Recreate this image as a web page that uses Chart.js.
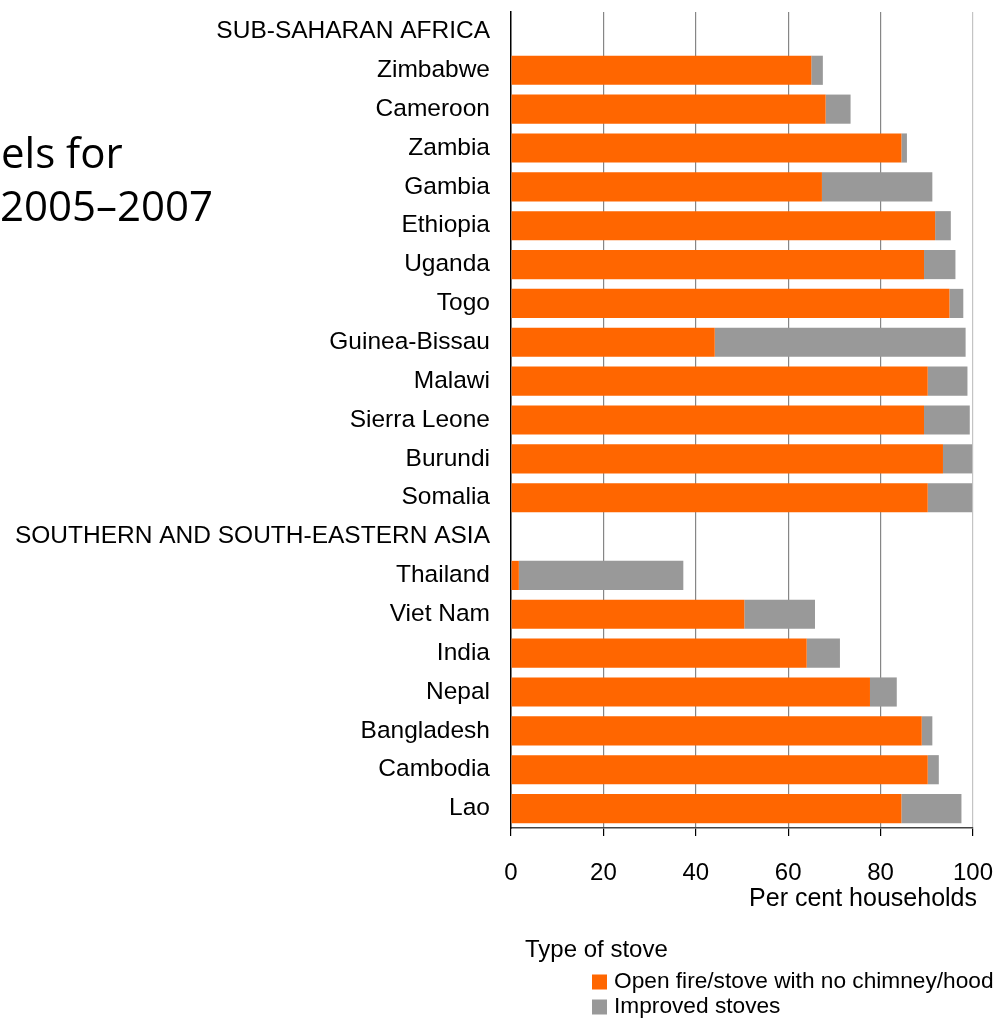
<!DOCTYPE html>
<html>
<head>
<meta charset="utf-8">
<script src="https://cdn.jsdelivr.net/npm/chart.js@4"></script>
<style>
  html, body { margin: 0; padding: 0; background: #ffffff; }
  #wrap { position: relative; width: 997px; height: 1019px; }
</style>
</head>
<body>
<div id="wrap"><canvas id="c" width="997" height="1019"></canvas></div>
<script>
const categories = [
  'SUB-SAHARAN AFRICA', 'Zimbabwe', 'Cameroon', 'Zambia', 'Gambia', 'Ethiopia', 'Uganda', 'Togo',
  'Guinea-Bissau', 'Malawi', 'Sierra Leone', 'Burundi', 'Somalia',
  'SOUTHERN AND SOUTH-EASTERN ASIA', 'Thailand', 'Viet Nam', 'India', 'Nepal', 'Bangladesh', 'Cambodia', 'Lao'
];
const openFire = [null, 65.0, 68.1, 84.5, 67.3, 91.8, 89.4, 94.9, 44.1, 90.2, 89.4, 93.5, 90.2,
  null, 1.7, 50.5, 64.0, 77.7, 88.9, 90.2, 84.5];
const improved = [null, 2.5, 5.4, 1.2, 23.9, 3.4, 6.8, 3.0, 54.3, 8.6, 9.9, 6.3, 9.6,
  null, 35.6, 15.3, 7.2, 5.8, 2.3, 2.4, 13.0];
const seriesNames = ['Open fire/stove with no chimney/hood', 'Improved stoves'];
const xTicks = [0, 20, 40, 60, 80, 100];
const titleLines = ['els for', '2005\u20132007'];
const xAxisTitle = 'Per cent households';
const legendTitle = 'Type of stove';

const FONT = "'Liberation Sans', Arial, sans-serif";

const extras = {
  id: 'extras',
  afterDraw(chart) {
    const ctx = chart.ctx;
    ctx.save();
    ctx.fillStyle = '#000';
    // partial slide title
    ctx.font = "42px 'Open Sans', sans-serif";
    ctx.textAlign = 'left';
    ctx.textBaseline = 'alphabetic';
    ctx.fillText(titleLines[0], 1, 168);
    ctx.fillText(titleLines[1], 0, 221);
    // axis title
    ctx.font = '25px ' + FONT;
    ctx.textAlign = 'right';
    ctx.textBaseline = 'middle';
    ctx.fillText(xAxisTitle, 977, 899);
    // legend
    ctx.textAlign = 'left';
    ctx.font = '24px ' + FONT;
    ctx.fillText(legendTitle, 525, 950);
    ctx.font = '22.7px ' + FONT;
    chart.data.datasets.forEach((ds, i) => {
      const cy = 982 + i * 25;
      ctx.fillStyle = ds.backgroundColor;
      ctx.fillRect(592, cy - 7.5, 15, 15);
      ctx.fillStyle = '#000';
      ctx.fillText(ds.label, 614, cy);
    });
    ctx.restore();
  }
};

new Chart(document.getElementById('c'), {
  type: 'bar',
  data: {
    labels: categories,
    datasets: [
      { label: seriesNames[0], data: openFire, backgroundColor: '#FF6600', borderWidth: 0 },
      { label: seriesNames[1], data: improved, backgroundColor: '#999999', borderWidth: 0 }
    ]
  },
  options: {
    indexAxis: 'y',
    responsive: false,
    animation: false,
    maintainAspectRatio: false,
    layout: { padding: { top: 12, right: 24, left: 0, bottom: 0 } },
    datasets: { bar: { barPercentage: 0.75, categoryPercentage: 1 } },
    plugins: { legend: { display: false }, tooltip: { enabled: false }, title: { display: false } },
    scales: {
      x: {
        stacked: true,
        min: 0, max: 100,
        afterBuildTicks(scale) { scale.ticks = xTicks.map(v => ({ value: v })); },
        afterFit(scale) { scale.height = 191; scale.paddingLeft = 0; scale.paddingRight = 0; },
        ticks: { color: '#000', font: { family: FONT, size: 24 }, padding: 23, maxRotation: 0 },
        grid: {
          color: (c) => c.index === 0 ? 'rgba(0,0,0,0)' : (c.index === 5 ? '#c4c4c4' : '#868686'),
          tickColor: '#000',
          tickLength: 8,
          lineWidth: 1.2
        },
        border: { display: true, color: '#444', width: 1.5 }
      },
      y: {
        stacked: true,
        afterFit(scale) { scale.width = 511; scale.paddingTop = 0; scale.paddingBottom = 0; },
        ticks: { color: '#000', font: { family: FONT, size: 24.5 }, padding: 21, autoSkip: false },
        grid: { display: false, drawTicks: false },
        border: { display: true, color: '#000', width: 1.5 }
      }
    }
  },
  plugins: [extras]
});
</script>
</body>
</html>
